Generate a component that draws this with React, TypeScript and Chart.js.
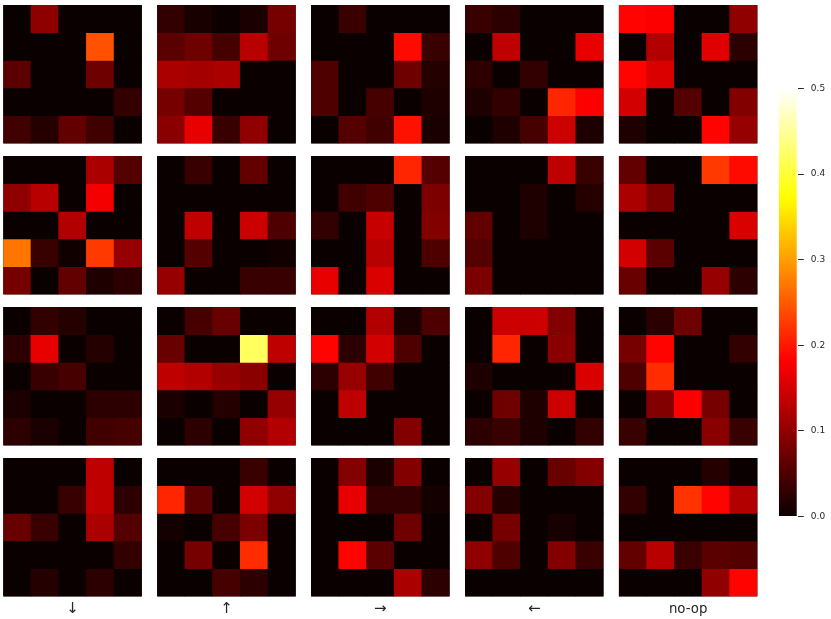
import { useEffect, useRef } from "react";
import { Chart, registerables } from "chart.js";

Chart.register(...registerables);

const actions = ["↓", "↑", "→", "←", "no-op"];
const columnKeys = ["0", "1", "2", "3", "4"];
const colorbarTicks = { min: 0, max: 0.5, step: 0.1 };

const r0Down = [[0, .098, 0, 0, 0], [0, 0, 0, .243, 0], [.06, 0, 0, .075, 0], [0, 0, 0, 0, .03], [.04, .02, .065, .04, 0]];
const r0Up = [[.03, .01, .002, .012, .08], [.06, .075, .045, .13, .075], [.12, .115, .12, 0, 0], [.08, .055, 0, 0, 0], [.095, .165, .035, .1, 0]];
const r0Right = [[0, .035, 0, 0, 0], [0, 0, 0, .19, .035], [.05, 0, 0, .075, .02], [.05, 0, .045, 0, .015], [0, .055, .04, .195, .012]];
const r0Left = [[.035, .025, 0, 0, 0], [0, .135, 0, 0, .165], [.025, 0, .03, 0, 0], [.015, .03, 0, .21, .18], [0, .015, .045, .145, .015]];
const r0Noop = [[.185, .18, 0, 0, .1], [0, .125, 0, .16, .025], [.185, .155, 0, 0, 0], [.15, 0, .055, 0, .09], [.015, 0, 0, .185, .105]];

const r1Down = [[0, 0, 0, .12, .055], [.1, .13, 0, .175, 0], [0, 0, .125, 0, 0], [.27, .035, .005, .225, .105], [.08, 0, .065, .015, .025]];
const r1Up = [[0, .035, 0, .065, 0], [0, 0, 0, 0, 0], [0, .135, 0, .145, .05], [0, .055, 0, 0, .005], [.105, 0, 0, .035, .035]];
const r1Right = [[0, 0, 0, .21, .055], [0, .04, .05, 0, .085], [.03, 0, .14, 0, .09], [0, 0, .13, 0, .05], [.165, 0, .155, 0, 0]];
const r1Left = [[0, 0, 0, .135, .035], [0, 0, .015, 0, .02], [.065, 0, .015, 0, 0], [.055, 0, 0, 0, 0], [.085, 0, 0, 0, 0]];
const r1Noop = [[.065, 0, 0, .225, .19], [.12, .085, 0, 0, 0], [0, 0, 0, 0, .155], [.15, .06, 0, 0, 0], [.07, 0, 0, .105, .025]];

const r2Down = [[0, .03, .02, 0, 0], [.025, .165, 0, .02, 0], [0, .035, .045, 0, 0], [.012, 0, 0, .025, .025], [.025, .012, 0, .04, .045]];
const r2Up = [[0, .045, .07, 0, 0], [.07, 0, 0, .42, .135], [.135, .125, .105, .095, 0], [.012, 0, .02, 0, .105], [0, .025, 0, .1, .125]];
const r2Right = [[0, 0, .125, .012, .05], [.185, .025, .15, .05, 0], [.025, .105, .04, 0, 0], [0, .135, 0, 0, 0], [0, 0, 0, .09, 0]];
const r2Left = [[0, .145, .145, .09, 0], [0, .21, 0, .095, 0], [.015, 0, 0, 0, .155], [0, .075, .015, .145, 0], [.025, .035, .015, 0, .03]];
const r2Noop = [[0, .025, .075, 0, 0], [.08, .185, 0, 0, .03], [.05, .215, 0, 0, 0], [0, .09, .18, .08, 0], [.035, 0, 0, .095, .035]];

const r3Down = [[0, 0, 0, .135, 0], [0, 0, .035, .135, .025], [.07, .035, 0, .12, .055], [0, 0, 0, 0, .03], [0, .02, 0, .025, 0]];
const r3Up = [[0, 0, 0, .035, 0], [.21, .06, 0, .15, .1], [.008, 0, .045, .085, 0], [0, .08, 0, .215, 0], [0, 0, .045, .025, 0]];
const r3Right = [[0, .09, .012, .09, 0], [0, .165, .03, .03, .008], [0, 0, 0, .075, 0], [0, .185, .06, 0, 0], [0, 0, 0, .12, .025]];
const r3Left = [[0, .105, 0, .07, .09], [.09, .02, 0, 0, 0], [0, .08, 0, .01, 0], [.1, .05, 0, .09, .035], [0, 0, 0, 0, 0]];
const r3Noop = [[0, 0, 0, .02, 0], [.03, 0, .22, .185, .125], [0, 0, 0, 0, 0], [.065, .13, .035, .06, .055], [0, 0, 0, .1, .185]];

const grid = [
  [r0Down, r0Up, r0Right, r0Left, r0Noop],
  [r1Down, r1Up, r1Right, r1Left, r1Noop],
  [r2Down, r2Up, r2Right, r2Left, r2Noop],
  [r3Down, r3Up, r3Right, r3Left, r3Noop],
];

const FONT = "'DejaVu Sans'";
const INK = "#262626";

function hot(v: number) {
  const t = Math.min(1, Math.max(0, v / colorbarTicks.max));
  const r = t < 0.365 ? 0.0416 + (t / 0.365) * 0.9584 : 1;
  const g = t < 0.365 ? 0 : t < 0.746 ? (t - 0.365) / 0.381 : 1;
  const b = t < 0.746 ? 0 : (t - 0.746) / 0.254;
  return `rgb(${Math.round(r * 255)},${Math.round(g * 255)},${Math.round(b * 255)})`;
}

const plotBackground = {
  id: "plotBackground",
  beforeDatasetsDraw(chart: any) {
    const a = chart.chartArea;
    chart.ctx.save();
    chart.ctx.fillStyle = hot(0);
    chart.ctx.fillRect(a.left, a.top, a.right - a.left, a.bottom - a.top);
    chart.ctx.restore();
  },
};

const X0 = 3.3, DX = 153.9, Y0 = 5, DY = 151, W = 138.5, H = 138.4, BOTTOM = 619;

function makePanel(canvas: HTMLCanvasElement, cells: number[][], row: number, col: number) {
  const x = X0 + col * DX;
  const y = Y0 + row * DY;
  const left = Math.floor(x);
  const top = Math.floor(y);
  const isBottom = row === grid.length - 1;
  const right = Math.ceil(x + W);
  const bottom = isBottom ? BOTTOM : Math.ceil(y + H);
  canvas.width = right - left;
  canvas.height = bottom - top;
  canvas.style.cssText = `position:absolute;left:${left}px;top:${top}px;width:${right - left}px;height:${bottom - top}px`;
  const xPad = bottom - (y + H);
  const isArrow = actions[col].length === 1;
  return new Chart(canvas, {
    type: "bar",
    data: {
      labels: columnKeys,
      datasets: cells.map((rowValues, r) => ({
        data: rowValues.map(() => [r, r + 1]),
        backgroundColor: rowValues.map(hot),
        borderWidth: 0,
        barPercentage: 1,
        categoryPercentage: 1,
        grouped: false,
      })),
    } as any,
    options: {
      animation: false,
      responsive: false,
      devicePixelRatio: 1,
      layout: {
        autoPadding: false,
        padding: {
          left: x - left,
          top: y - top,
          right: right - (x + W),
          bottom: isBottom ? 0 : xPad,
        },
      },
      plugins: { legend: { display: false }, tooltip: { enabled: false } },
      scales: {
        x: isBottom
          ? {
              display: true,
              grid: { display: false },
              border: { display: false },
              ticks: { display: false },
              title: {
                display: true,
                text: actions[col],
                color: INK,
                font: { family: FONT, size: isArrow ? 15 : 13.3 },
                padding: { top: 0, bottom: isArrow ? 0.5 : 1 },
              },
              afterFit(s: any) {
                s.height = xPad;
              },
            }
          : { display: false },
        y: { display: false, reverse: true, min: 0, max: cells.length },
      },
    } as any,
    plugins: [plotBackground],
  });
}

function makeColorbar(canvas: HTMLCanvasElement) {
  canvas.width = 831 - 777;
  canvas.height = 445;
  canvas.style.cssText = "position:absolute;left:777px;top:80px;width:54px;height:445px";
  return new Chart(canvas, {
    type: "bar",
    data: {
      labels: ["scale"],
      datasets: [
        {
          data: [[colorbarTicks.min, colorbarTicks.max]],
          barPercentage: 0.85,
          categoryPercentage: 1,
          borderWidth: 0,
          backgroundColor(ctx: any) {
            const a = ctx.chart.scales.y;
            if (!a || a.bottom === undefined) return hot(0);
            const g = ctx.chart.ctx.createLinearGradient(
              0,
              a.getPixelForValue(colorbarTicks.min),
              0,
              a.getPixelForValue(colorbarTicks.max)
            );
            [0, 0.365, 0.746, 1].forEach((s) => g.addColorStop(s, hot(s * colorbarTicks.max)));
            return g;
          },
        },
      ],
    } as any,
    options: {
      animation: false,
      responsive: false,
      devicePixelRatio: 1,
      layout: { autoPadding: false, padding: { left: 0.4, top: 8.5, bottom: 8.5, right: 0 } },
      plugins: { legend: { display: false }, tooltip: { enabled: false } },
      scales: {
        x: { display: false },
        y: {
          position: "right",
          min: colorbarTicks.min,
          max: colorbarTicks.max,
          grid: { drawOnChartArea: false, drawTicks: true, tickLength: 5.5, tickColor: INK, tickWidth: 1 },
          border: { display: false },
          ticks: {
            stepSize: colorbarTicks.step,
            color: INK,
            padding: 7,
            font: { family: FONT, size: 9 },
            callback: (v: any) => Number(v).toFixed(1),
          },
          afterFit(s: any) {
            s.width = 831 - 798.3;
            s.paddingTop = 0;
            s.paddingBottom = 0;
          },
        },
      },
    } as any,
  });
}

export default function App() {
  const rootRef = useRef<HTMLDivElement>(null);

  useEffect(() => {
    const root = rootRef.current!;
    const charts: Chart[] = [];
    grid.forEach((panels, row) =>
      panels.forEach((cells, col) => {
        const c = document.createElement("canvas");
        root.appendChild(c);
        charts.push(makePanel(c, cells, row, col));
      })
    );
    const bar = document.createElement("canvas");
    root.appendChild(bar);
    charts.push(makeColorbar(bar));
    return () => {
      charts.forEach((c) => c.destroy());
      root.innerHTML = "";
    };
  }, []);

  return (
    <div
      ref={rootRef}
      style={{ position: "absolute", left: 0, top: 0, width: 831, height: 619, overflow: "hidden", background: "#fff" }}
    />
  );
}
